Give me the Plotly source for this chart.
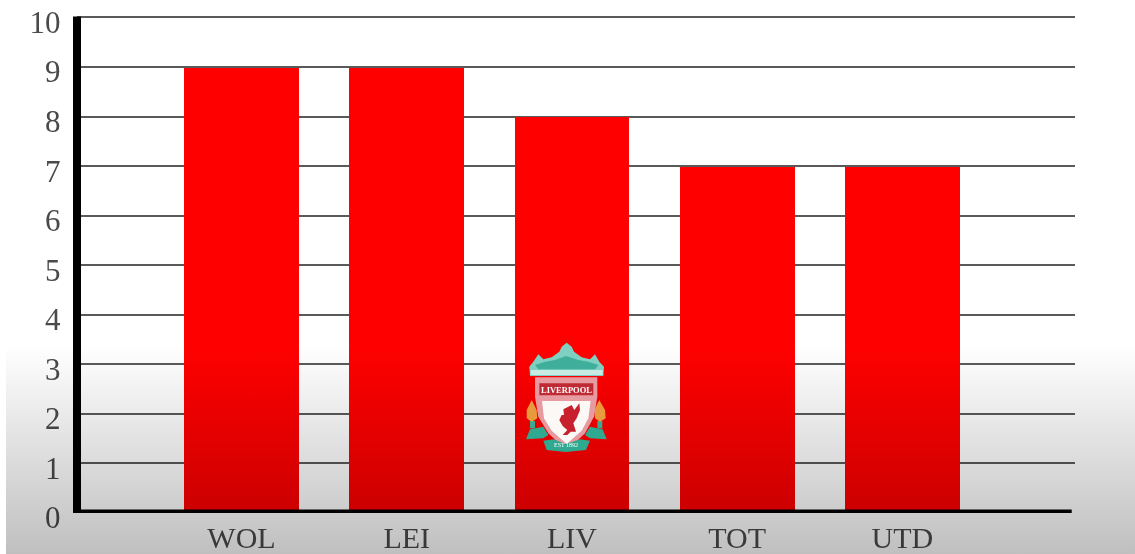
import base64
import plotly.graph_objects as go

W, H = 1135, 554
categories = ["WOL", "LEI", "LIV", "TOT", "UTD"]
values = [9, 9, 8, 7, 7]
y_ticks = list(range(0, 11))
FONT = "Liberation Serif"
TEXT = "#4a4a4a"

def px(x): return x / W
def py(y): return 1 - y / H

# Grey wash that sits over the whole lower part of the picture
svg = f'''<svg xmlns="http://www.w3.org/2000/svg" width="{W-6}" height="{H-345}" preserveAspectRatio="none">
<defs><linearGradient id="g" x1="0" y1="0" x2="0" y2="1">
<stop offset="0" stop-color="#000" stop-opacity="0"/>
<stop offset="1" stop-color="#000" stop-opacity="0.25"/>
</linearGradient></defs><rect width="100%" height="100%" fill="url(#g)"/></svg>'''
wash = "data:image/svg+xml;base64," + base64.b64encode(svg.encode()).decode()

fig = go.Figure()
fig.add_bar(x=categories, y=values, width=0.695, marker=dict(color="#ff0000", line=dict(width=0)),
            hoverinfo="x+y", showlegend=False)
# carries the value-axis labels, whose baseline sits a little under the gridlines
fig.add_scatter(x=categories, y=values, yaxis="y2", mode="markers", marker=dict(opacity=0),
                hoverinfo="skip", showlegend=False)

# Crest outlines, given in pixels of the crest crop
def c(pts):
    d = ""
    for i, (a, b) in enumerate(pts):
        X, Y = px(480 + a / 3), py(320 + b / 3)
        d += f"{'M' if i == 0 else 'L'}{X:.5f},{Y:.5f} "
    return d + "Z"

def piece(pts, color, line=None, w=0):
    return dict(type="path", path=c(pts), xref="paper", yref="paper", fillcolor=color,
                line=dict(color=line or color, width=w), layer="above")

crown = [(150,168),(148,140),(160,125),(175,103),(190,118),(215,112),(238,95),(245,80),(260,68),
         (275,80),(282,95),(305,112),(330,118),(345,103),(358,125),(372,140),(370,168)]
crown_light = [(152,150),(368,150),(368,165),(152,165)]
crown_dark = [(165,135),(195,125),(225,120),(258,108),(295,120),(325,125),(355,135),(345,148),(175,148)]
shield = [(165,172),(352,172),(352,230),(342,290),(315,340),(260,392),(205,340),(175,290),(165,230)]
banner = [(178,190),(340,190),(340,226),(178,226)]
inner = [(186,243),(332,243),(325,295),(305,332),(260,372),(215,332),(192,295)]
bird = [(262,262),(275,255),(283,270),(298,250),(300,270),(290,295),(280,310),(288,335),(272,335),
        (262,345),(248,345),(262,330),(248,318),(238,300),(245,285),(252,285),(250,268)]
flame_l = [(155,240),(170,270),(172,295),(155,305),(140,295),(140,270)]
flame_r = [(358,240),(375,270),(377,295),(360,305),(345,295),(343,270)]
stem_l = [(150,303),(165,303),(165,325),(150,325)]
stem_r = [(352,303),(367,303),(367,325),(352,325)]
rib_l = [(138,358),(150,328),(190,320),(205,345),(190,355)]
rib_r = [(380,358),(368,328),(330,320),(315,345),(330,355)]
rib_m = [(190,362),(220,358),(258,372),(300,358),(330,362),(318,390),(258,396),(200,390)]

shapes = [
    dict(type="line", xref="paper", yref="y", x0=px(77), x1=px(77), y0=-0.075, y1=10.02,
         line=dict(color="#000000", width=8), layer="above"),
    dict(type="line", xref="paper", yref="y", x0=px(73), x1=px(1071.7), y0=0, y1=0,
         line=dict(color="#000000", width=7), layer="above"),
    piece(rib_l, "#2fa98f"), piece(rib_r, "#2fa98f"),
    piece(stem_l, "#3aa98f"), piece(stem_r, "#3aa98f"),
    piece(flame_l, "#e89a3c"), piece(flame_r, "#e89a3c"),
    piece(crown, "#7fd0c0"),
    piece(crown_dark, "#3fae9a"),
    piece(crown_light, "#c8ece4"),
    piece(shield, "#e79aa0"),
    piece(banner, "#c02a34"),
    piece(inner, "#fbf8f6"),
    piece(bird, "#c8202c"),
    piece(rib_m, "#2fa98f"),
]

fig.update_layout(
    width=W, height=H, margin=dict(l=0, r=0, t=0, b=0, autoexpand=False), autosize=False,
    paper_bgcolor="#ffffff", plot_bgcolor="rgba(0,0,0,0)", showlegend=False, bargap=0,
    font=dict(family=FONT, size=30, color=TEXT),
    xaxis=dict(domain=[px(77), px(1075)], range=[-0.9958, 5.0454], type="category",
               categoryorder="array", categoryarray=categories, showgrid=False, zeroline=False,
               showline=False, ticks="", ticklabelstandoff=4,
               tickfont=dict(family=FONT, size=30, color=TEXT), anchor="y"),
    yaxis=dict(domain=[py(513), py(12.545)], range=[0, 10.1], tickvals=y_ticks, showticklabels=False,
               showgrid=True, gridcolor="#5a5a5a", gridwidth=2, zeroline=False, showline=False,
               ticks="", anchor="x"),
    yaxis2=dict(domain=[py(517.5), py(22)], range=[0, 10], tickvals=y_ticks,
                ticktext=[str(t) for t in y_ticks], showgrid=False, zeroline=False, showline=False,
                ticks="", anchor="free", position=px(60.5), side="left",
                tickfont=dict(family=FONT, size=31, color=TEXT)),
    images=[dict(source=wash, xref="paper", yref="paper", x=px(6), y=py(345),
                 sizex=px(W - 6), sizey=(H - 345) / H, sizing="stretch",
                 xanchor="left", yanchor="top", layer="above")],
    shapes=shapes,
    annotations=[
        dict(text="<b>LIVERPOOL</b>", x=px(566), y=py(389.5), xref="paper", yref="paper", showarrow=False,
             font=dict(family=FONT, size=8.5, color="#ffffff"), xanchor="center", yanchor="middle"),
        dict(text="EST 1892", x=px(566), y=py(445), xref="paper", yref="paper", showarrow=False,
             font=dict(family=FONT, size=6, color="#ffffff"), xanchor="center", yanchor="middle"),
    ],
)

fig.write_html("out.html", config=dict(displayModeBar=False),
               post_script="document.body.style.margin='0';document.body.style.overflow='hidden';"
                           "document.querySelector('.plotly-graph-div').style.filter='blur(0.7px)';")
